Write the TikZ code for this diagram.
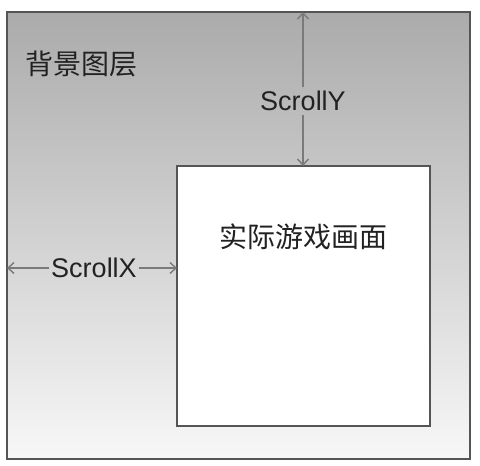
\documentclass[tikz,border=0pt]{standalone}
\usepackage{fontspec}
\setmainfont{Liberation Sans}
\newfontfamily\cjk{Noto Sans CJK SC}
\usetikzlibrary{calc, positioning}
\usetikzlibrary{arrows.meta}

\definecolor{frame}{HTML}{555555}
\definecolor{arrowgray}{HTML}{7A7A7A}
\definecolor{inkgray}{HTML}{222222}

\begin{document}
\begin{tikzpicture}[x=1pt, y=-1pt,
  scrolltip/.style={-{Straight Barb[length=6pt, width=11pt]}, arrowgray, line width=1.4pt},
  scrolllabel/.style={font=\fontsize{27}{30}\selectfont, text=inkgray, inner sep=2pt}]
\def\bgleft{7}
\def\bgright{470}
\def\bgtop{12}
\def\bgbottom{459}
\def\gmleft{177}
\def\gmright{430}
\def\gmtop{166}
\def\gmbottom{426}
\useasboundingbox (0,0) rectangle (480,466);
\coordinate (BL) at (\bgleft,\bgbottom);
\coordinate (TR) at (\bgright,\bgtop);
\coordinate (G1) at (\gmleft,\gmbottom);
\coordinate (G2) at (\gmright,\gmtop);

\draw[frame, line width=1.5pt, top color=black!33, bottom color=black!3] (BL) rectangle (TR);
\draw[frame, line width=1.5pt, fill=white] (G1) rectangle (G2);

\node[text=inkgray, font=\cjk\fontsize{28}{30}\selectfont] (bglabel) at (82,64) {背景图层};
\node[text=inkgray, font=\cjk\fontsize{28}{30}\selectfont] (gmlabel) at (303,237) {实际游戏画面};

\node[scrolllabel, inner sep=4pt] (sy) at (303,101) {ScrollY};
\node[scrolllabel] (sx) at (94,268) {ScrollX};

\coordinate (sytop) at (sy |- TR);
\coordinate (sybot) at (sy |- G2);
\coordinate (sxleft) at (sx -| BL);
\coordinate (sxright) at (sx -| G1);

\draw[scrolltip] (sy) -- (sytop);
\draw[scrolltip] (sy) -- (sybot);
\draw[scrolltip] (sx) -- (sxleft);
\draw[scrolltip] (sx) -- (sxright);
\end{tikzpicture}
\end{document}
